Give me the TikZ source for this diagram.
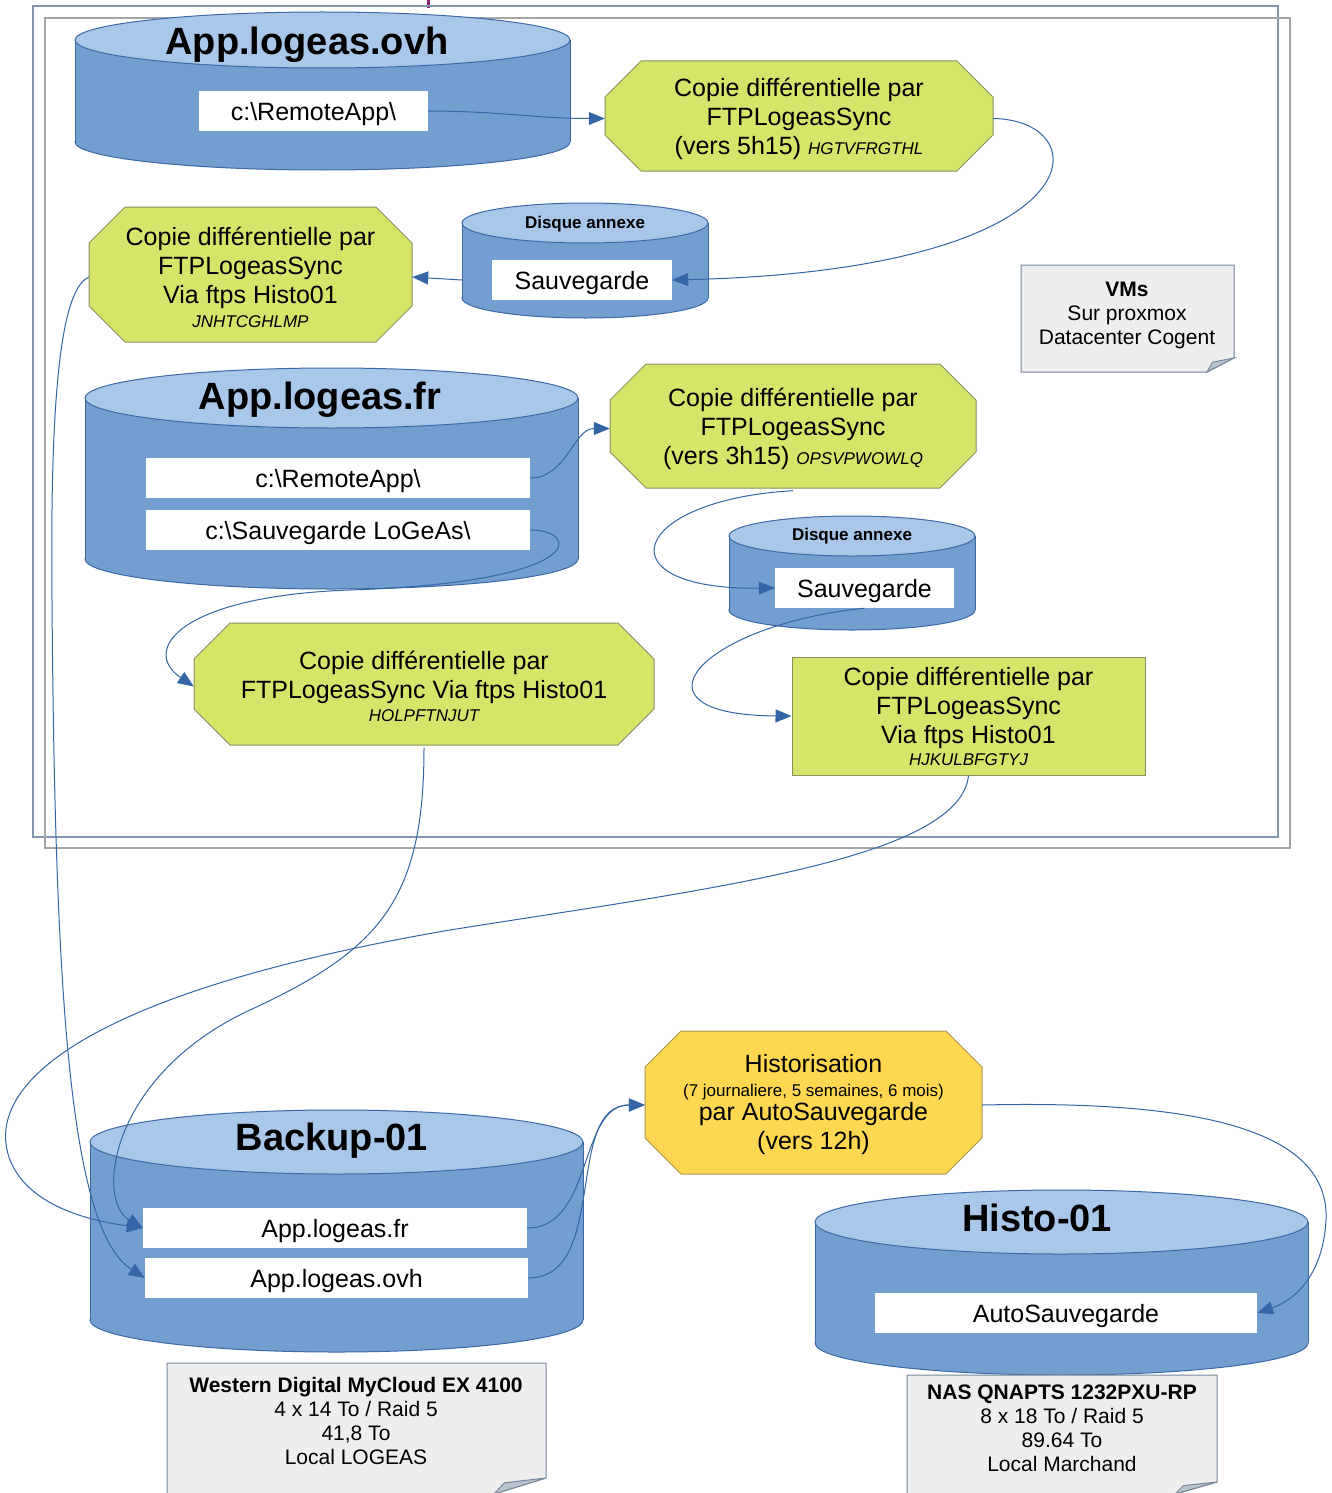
\documentclass[tikz,border=0pt]{standalone}
\usepackage{fontspec}
\setmainfont{Liberation Sans}
\usetikzlibrary{shapes.geometric,arrows.meta,positioning}
\definecolor{cylbody}{RGB}{114,159,207}
\definecolor{cyltop}{RGB}{169,199,232}
\definecolor{cylline}{RGB}{60,105,165}
\definecolor{vert}{RGB}{215,228,106}
\definecolor{vertline}{RGB}{135,145,95}
\definecolor{jaune}{RGB}{255,215,80}
\definecolor{jauneline}{RGB}{170,150,80}
\definecolor{flechec}{RGB}{52,101,164}
\definecolor{notefill}{RGB}{238,238,238}
\definecolor{noteline}{RGB}{120,135,155}
\definecolor{pli}{RGB}{185,195,205}
\definecolor{cadreA}{RGB}{130,150,175}
\definecolor{cadreB}{RGB}{165,165,165}
\definecolor{violet}{RGB}{150,30,110}
\newcommand{\code}[1]{{\fontsize{17}{20}\selectfont\itshape #1}}
% disque : nom, x1, x2, haut, bas, rayon
\newcommand{\disque}[6]{%
  \node[ellipse,fill=cylbody,draw=cylline,line width=1pt,inner sep=0,minimum width=#3-#2,minimum height=2*#6] (#1-bas) at ({(#2+#3)/2},#5-#6) {};
  \fill[cylbody] (#2,#4+#6) rectangle (#3,#5-#6);
  \draw[cylline,line width=1pt] (#2,#4+#6) -- (#2,#5-#6) (#3,#4+#6) -- (#3,#5-#6);
  \node[ellipse,fill=cyltop,draw=cylline,line width=1pt,inner sep=0,minimum width=#3-#2,minimum height=2*#6] (#1-haut) at ({(#2+#3)/2},#4+#6) {};
  \node[inner sep=0,minimum width=#3-#2,minimum height=#5-#4] (#1) at ({(#2+#3)/2},{(#4+#5)/2}) {};}
% octogone : style, nom, x1, y1, x2, y2, texte
\newcommand{\octo}[7]{%
  \filldraw[#1] (#3+36,#4) -- (#5-36,#4) -- (#5,#4+36) -- (#5,#6-36) -- (#5-36,#6) -- (#3+36,#6) -- (#3,#6-36) -- (#3,#4+36) -- cycle;
  \node[texte,inner sep=0,minimum width=#5-#3,minimum height=#6-#4] (#2) at ({(#3+#5)/2},{(#4+#6)/2+2.5}) {#7};}
% note : x1, y1, x2, y2, pli x, pli y
\newcommand{\pliure}[6]{%
  \filldraw[fill=notefill,draw=noteline,line width=1pt] (#1,#2) -- (#3,#2) -- (#3,#4-#6) -- (#3-#5,#4) -- (#1,#4) -- cycle;
  \filldraw[fill=pli,draw=noteline,line width=1pt] (#3,#4-#6) -- (#3-#5,#4) -- (#3-0.8*#5,#4-0.7*#6) -- cycle;}

\begin{document}
\begin{tikzpicture}[x=1pt,y=-1pt,
    texte/.style={font=\fontsize{25}{29}\selectfont,align=center},
    titre/.style={font=\fontsize{38}{44}\selectfont\bfseries},
    soustitre/.style={font=\fontsize{17}{20}\selectfont\bfseries},
    boite/.style={texte,fill=white,minimum height=40,inner sep=0,text depth=0pt},
    notetxt/.style={font=\fontsize{21}{24}\selectfont,align=center},
    octvert/.style={fill=vert,draw=vertline,line width=1pt},
    octjaune/.style={fill=jaune,draw=jauneline,line width=1pt},
    fleche/.style={draw=flechec,line width=1pt,-{Triangle[length=16pt,width=13pt]}}]
\useasboundingbox (0,0) rectangle (1331,1493);
\draw[violet,line width=3pt] (428,0) -- (428,8);
\draw[cadreA,line width=1.2pt] (33,6) rectangle (1278,837);
\draw[cadreB,line width=1.2pt] (45,18) rectangle (1290,848);

\disque{ovh}{75}{570}{12}{170}{28}
\node[titre] (ovhtitre) at (307,45) {App.logeas.ovh};
\node[boite,minimum width=229] (ovhapp) at (313.5,111) {c:\textbackslash RemoteApp\textbackslash};
\octo{octvert}{copie1}{605}{61}{993}{171}{Copie différentielle par\\FTPLogeasSync\\(vers 5h15) \code{HGTVFRGTHL}}

\disque{disque1}{462}{708}{203}{318}{20}
\node[soustitre] (annexe1) at (585,224) {Disque annexe};
\node[boite,minimum width=180] (sauv1) at (582,280) {Sauvegarde};
\octo{octvert}{copie2}{89}{207}{412}{342}{Copie différentielle par\\FTPLogeasSync\\Via ftps Histo01\\[-5pt]\code{JNHTCGHLMP}}

\pliure{1021}{265}{1234}{372}{27}{14}
\node[notetxt] (vms) at (1127,315) {\textbf{VMs}\\Sur proxmox\\Datacenter Cogent};

\disque{fr}{85}{578}{368}{589}{30}
\node[titre] (frtitre) at (320,400) {App.logeas.fr};
\node[boite,minimum width=384] (frapp) at (338,478) {c:\textbackslash RemoteApp\textbackslash};
\node[boite,minimum width=384] (frsauv) at (338,530) {c:\textbackslash Sauvegarde LoGeAs\textbackslash};
\octo{octvert}{copie3}{610}{364}{976}{488}{Copie différentielle par\\FTPLogeasSync\\(vers 3h15) \code{OPSVPWOWLQ}}

\disque{disque2}{729}{975}{516}{630}{20}
\node[soustitre] (annexe2) at (852,536) {Disque annexe};
\node[boite,minimum width=179] (sauv2) at (864.5,588) {Sauvegarde};
\node[texte,fill=vert,draw=vertline,line width=1pt,inner sep=0,minimum width=353,minimum height=118] (copie4) at (968.5,716) {Copie différentielle par\\FTPLogeasSync\\Via ftps Histo01\\[-7pt]\code{HJKULBFGTYJ}};
\octo{octvert}{copie5}{194}{623}{654}{745}{Copie différentielle par\\FTPLogeasSync Via ftps Histo01\\[-6pt]\code{HOLPFTNJUT}}

\disque{backup}{90}{583}{1110}{1352}{32}
\node[titre] (bktitre) at (332,1141) {Backup-01};
\node[boite,minimum width=384] (bkfr) at (335,1228) {App.logeas.fr};
\node[boite,minimum width=383] (bkovh) at (336.5,1278) {App.logeas.ovh};
\octo{octjaune}{histor}{645}{1031}{982}{1174}{Historisation\\[-5pt]{\fontsize{17}{20}\selectfont (7 journaliere, 5 semaines, 6 mois)}\\[-5pt]par AutoSauvegarde\\(vers 12h)}

\disque{histo}{815}{1308}{1190}{1375}{32}
\node[titre] (histitre) at (1037,1218) {Histo-01};
\node[boite,minimum width=382] (autosauv) at (1066,1313) {AutoSauvegarde};

\pliure{167}{1363}{546}{1494}{52}{16}
\node[notetxt] (wd) at (356,1421) {\textbf{Western Digital MyCloud EX 4100}\\4 x 14 To / Raid 5\\41,8 To\\Local LOGEAS};
\pliure{907}{1375}{1217}{1494}{42}{12}
\node[notetxt] (nas) at (1062,1428) {\textbf{NAS QNAPTS 1232PXU-RP}\\8 x 18 To / Raid 5\\89.64 To\\Local Marchand};

\draw[fleche] (ovhapp.east) to[out=0,in=180] (copie1.west);
\draw[fleche] (copie1.east) .. controls (1100,120) and (1100,270) .. (sauv1.east);
\draw[fleche] (disque1.west |- sauv1.west) -- (copie2.east);
\draw[fleche] (frapp.east) to[out=0,in=180] (copie3.west);
\draw[fleche] (copie3.south) .. controls (630,500) and (600,590) .. (sauv2.west);
\draw[fleche] (sauv2.south) .. controls (700,625) and (620,715) .. (copie4.west);
\draw[fleche] (frsauv.east) .. controls (580,530) and (590,582) .. (350,590) .. controls (180,596) and (140,650) .. (copie5.west);
\draw[fleche] (copie2.west) .. controls (60,290) and (50,400) .. (52,600) .. controls (55,1000) and (70,1230) .. (bkovh.west);
\draw[fleche] (copie5.south) .. controls (424,900) and (380,950) .. (250,1010) .. controls (110,1075) and (95,1200) .. (bkfr.west);
\draw[fleche] (copie4.south) .. controls (960,860) and (700,890) .. (450,930) .. controls (100,990) and (-20,1080) .. (10,1160) .. controls (30,1210) and (100,1222) .. (bkfr.west);
\draw[fleche] (bkfr.east) to[out=0,in=180] (histor.west);
\draw[fleche] (bkovh.east) to[out=0,in=180] (histor.west);
\draw[fleche] (histor.east) .. controls (1200,1100) and (1330,1130) .. (1326,1220) .. controls (1323,1275) and (1295,1300) .. (autosauv.east);
\end{tikzpicture}
\end{document}
